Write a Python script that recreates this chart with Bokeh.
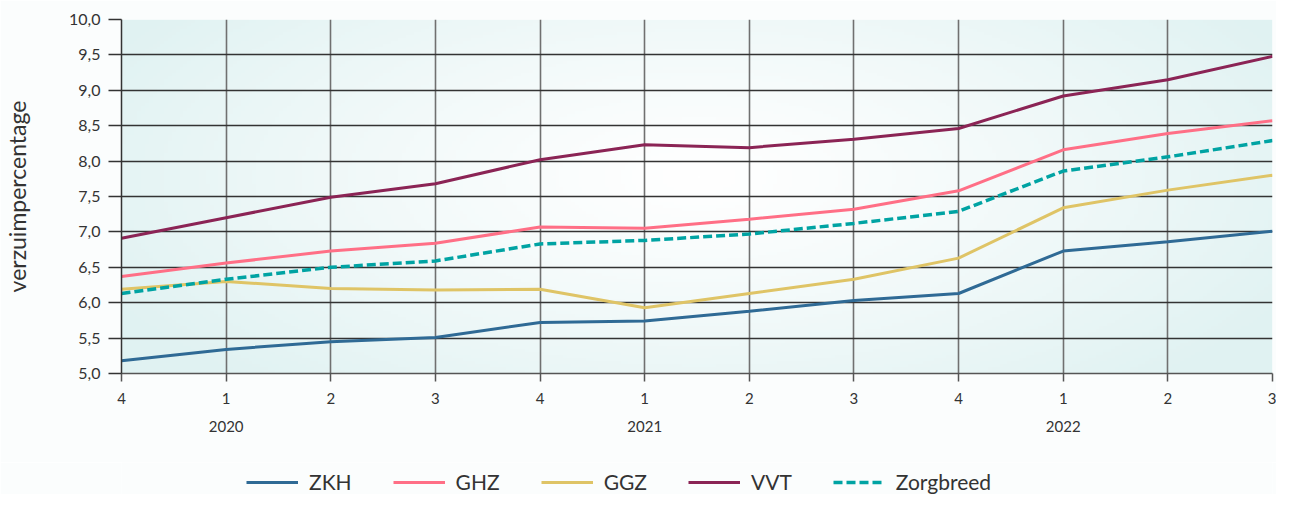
import numpy as np
from bokeh.plotting import figure
from bokeh.layouts import column
from bokeh.models import (Range1d, FixedTicker, LinearAxis, Legend, LegendItem,
                          CustomJSTickFormatter)
from bokeh.embed import file_html
from bokeh.resources import INLINE

# ---------------- data ----------------
quarters = ["4", "1", "2", "3", "4", "1", "2", "3", "4", "1", "2", "3"]
years = ["2020", "2021", "2022"]
zkh = [5.18, 5.34, 5.45, 5.51, 5.72, 5.74, 5.88, 6.03, 6.13, 6.73, 6.86, 7.01]
ghz = [6.37, 6.56, 6.73, 6.84, 7.07, 7.05, 7.18, 7.32, 7.58, 8.16, 8.39, 8.57]
ggz = [6.19, 6.30, 6.20, 6.18, 6.19, 5.93, 6.13, 6.33, 6.63, 7.34, 7.59, 7.80]
vvt = [6.91, 7.20, 7.49, 7.68, 8.02, 8.23, 8.19, 8.31, 8.46, 8.92, 9.15, 9.48]
zorgbreed = [6.13, 6.33, 6.50, 6.59, 6.83, 6.88, 6.97, 7.12, 7.29, 7.86, 8.06, 8.29]

series_names = ["ZKH", "GHZ", "GGZ", "VVT", "Zorgbreed"]
series_values = [zkh, ghz, ggz, vvt, zorgbreed]
series_colors = ["#2f6a95", "#ff6f86", "#dfc466", "#8b2455", "#00a3a3"]

y_min, y_max = 5.0, 10.0
x_idx = list(range(len(quarters)))
x_min, x_max = 0, len(quarters) - 1

FONT = "Lato"
TXT = "#333333"
PAGE_BG = "#fbfdfd"

W = 1276
p = figure(width=W, height=462, output_backend="svg", toolbar_location=None,
           x_range=Range1d(x_min, x_max), y_range=Range1d(y_min, y_max),
           min_border_left=20, min_border_right=4, min_border_top=19,
           min_border_bottom=89)
p.border_fill_color = PAGE_BG
p.background_fill_color = "#ffffff"
p.outline_line_color = None

# radial gradient background (decoration)
ny, nx = 120, 300
yy, xx = np.mgrid[0:ny, 0:nx]
cx, cy = nx * 0.5, ny * 0.55
t = np.sqrt(((xx - cx) / (nx * 0.58)) ** 2 + ((yy - cy) / (ny * 0.8)) ** 2)
t = np.clip(t, 0, 1) ** 1.2
white = np.array([255, 255, 255])
edge = np.array([224, 242, 242])
rgb = white[None, None, :] * (1 - t[..., None]) + edge[None, None, :] * t[..., None]
img = np.zeros((ny, nx), dtype=np.uint32)
view = img.view(dtype=np.uint8).reshape((ny, nx, 4))
view[..., 0] = rgb[..., 0].astype(np.uint8)
view[..., 1] = rgb[..., 1].astype(np.uint8)
view[..., 2] = rgb[..., 2].astype(np.uint8)
view[..., 3] = 255
p.image_rgba(image=[img], x=x_min, y=y_min, dw=x_max - x_min, dh=y_max - y_min,
             level="image")

def style(name):
    if name == "Zorgbreed":
        return dict(line_width=3.5, line_dash="9 4")
    return dict(line_width=3)

for name, vals, col in zip(series_names, series_values, series_colors):
    p.line(x_idx, vals, line_color=col, **style(name))

# x axis (quarters)
xa = p.xaxis[0]
xa.ticker = FixedTicker(ticks=x_idx)
xa.major_label_overrides = {i: q for i, q in enumerate(quarters)}
xa.major_label_text_font = FONT
xa.major_label_text_font_size = "15px"
xa.major_label_text_color = TXT
xa.major_tick_out = 8
xa.major_tick_in = 0
xa.major_tick_line_color = "#555555"
xa.major_tick_line_width = 1.5
xa.minor_tick_line_color = None
xa.axis_line_color = "#555555"
xa.axis_line_width = 1.5
xa.major_label_standoff = 11

# year axis
year_pos = [i for i, q in enumerate(quarters) if q == "1"]
ya2 = LinearAxis(ticker=FixedTicker(ticks=year_pos),
                 major_label_overrides={pos: yr for pos, yr in zip(year_pos, years)})
ya2.axis_line_color = None
ya2.major_tick_line_color = None
ya2.minor_tick_line_color = None
ya2.major_label_text_font = FONT
ya2.major_label_text_font_size = "15px"
ya2.major_label_text_color = TXT
ya2.major_label_standoff = 8
p.add_layout(ya2, "below")

# y axis
ya = p.yaxis[0]
ya.ticker = FixedTicker(ticks=[5.0, 5.5, 6.0, 6.5, 7.0, 7.5, 8.0, 8.5, 9.0, 9.5, 10.0])
ya.formatter = CustomJSTickFormatter(code="return tick.toFixed(1).replace('.', ',');")
ya.major_label_text_font = FONT
ya.major_label_text_font_size = "16px"
ya.major_label_text_color = TXT
ya.major_tick_out = 13
ya.major_tick_in = 0
ya.major_tick_line_color = "#333333"
ya.major_tick_line_width = 1.5
ya.minor_tick_line_color = None
ya.axis_line_color = "#333333"
ya.axis_line_width = 1.5
ya.major_label_standoff = 8
ya.axis_label = "verzuimpercentage"
ya.axis_label_text_font = FONT
ya.axis_label_text_font_size = "23px"
ya.axis_label_text_font_style = "normal"
ya.axis_label_text_color = TXT
ya.axis_label_standoff = 35

# grid
p.xgrid.ticker = FixedTicker(ticks=x_idx)
p.xgrid.grid_line_color = "#707070"
p.xgrid.grid_line_width = 1.6
p.ygrid.grid_line_color = "#333333"
p.ygrid.grid_line_width = 1.3

# ---------------- legend strip ----------------
lg = figure(width=W, height=32, output_backend="svg", toolbar_location=None,
            x_range=Range1d(100, 101), y_range=Range1d(100, 101),
            x_axis_location=None, y_axis_location=None, min_border=0)
lg.grid.visible = False
lg.outline_line_color = None
lg.background_fill_color = PAGE_BG
lg.border_fill_color = PAGE_BG
items = []
for name, vals, col in zip(series_names, series_values, series_colors):
    r = lg.line(x_idx, vals, line_color=col, **style(name))
    items.append(LegendItem(label=name, renderers=[r]))
legend = Legend(items=items, orientation="horizontal", location=(125, 0),
                glyph_width=52, glyph_height=20, label_text_font=FONT,
                label_text_font_size="21px", label_text_color=TXT,
                spacing=41, label_standoff=11, border_line_color=None,
                background_fill_alpha=0, margin=0, padding=3)
lg.add_layout(legend, "center")

open("out.html", "w").write(file_html(column(p, lg, spacing=0), INLINE))
